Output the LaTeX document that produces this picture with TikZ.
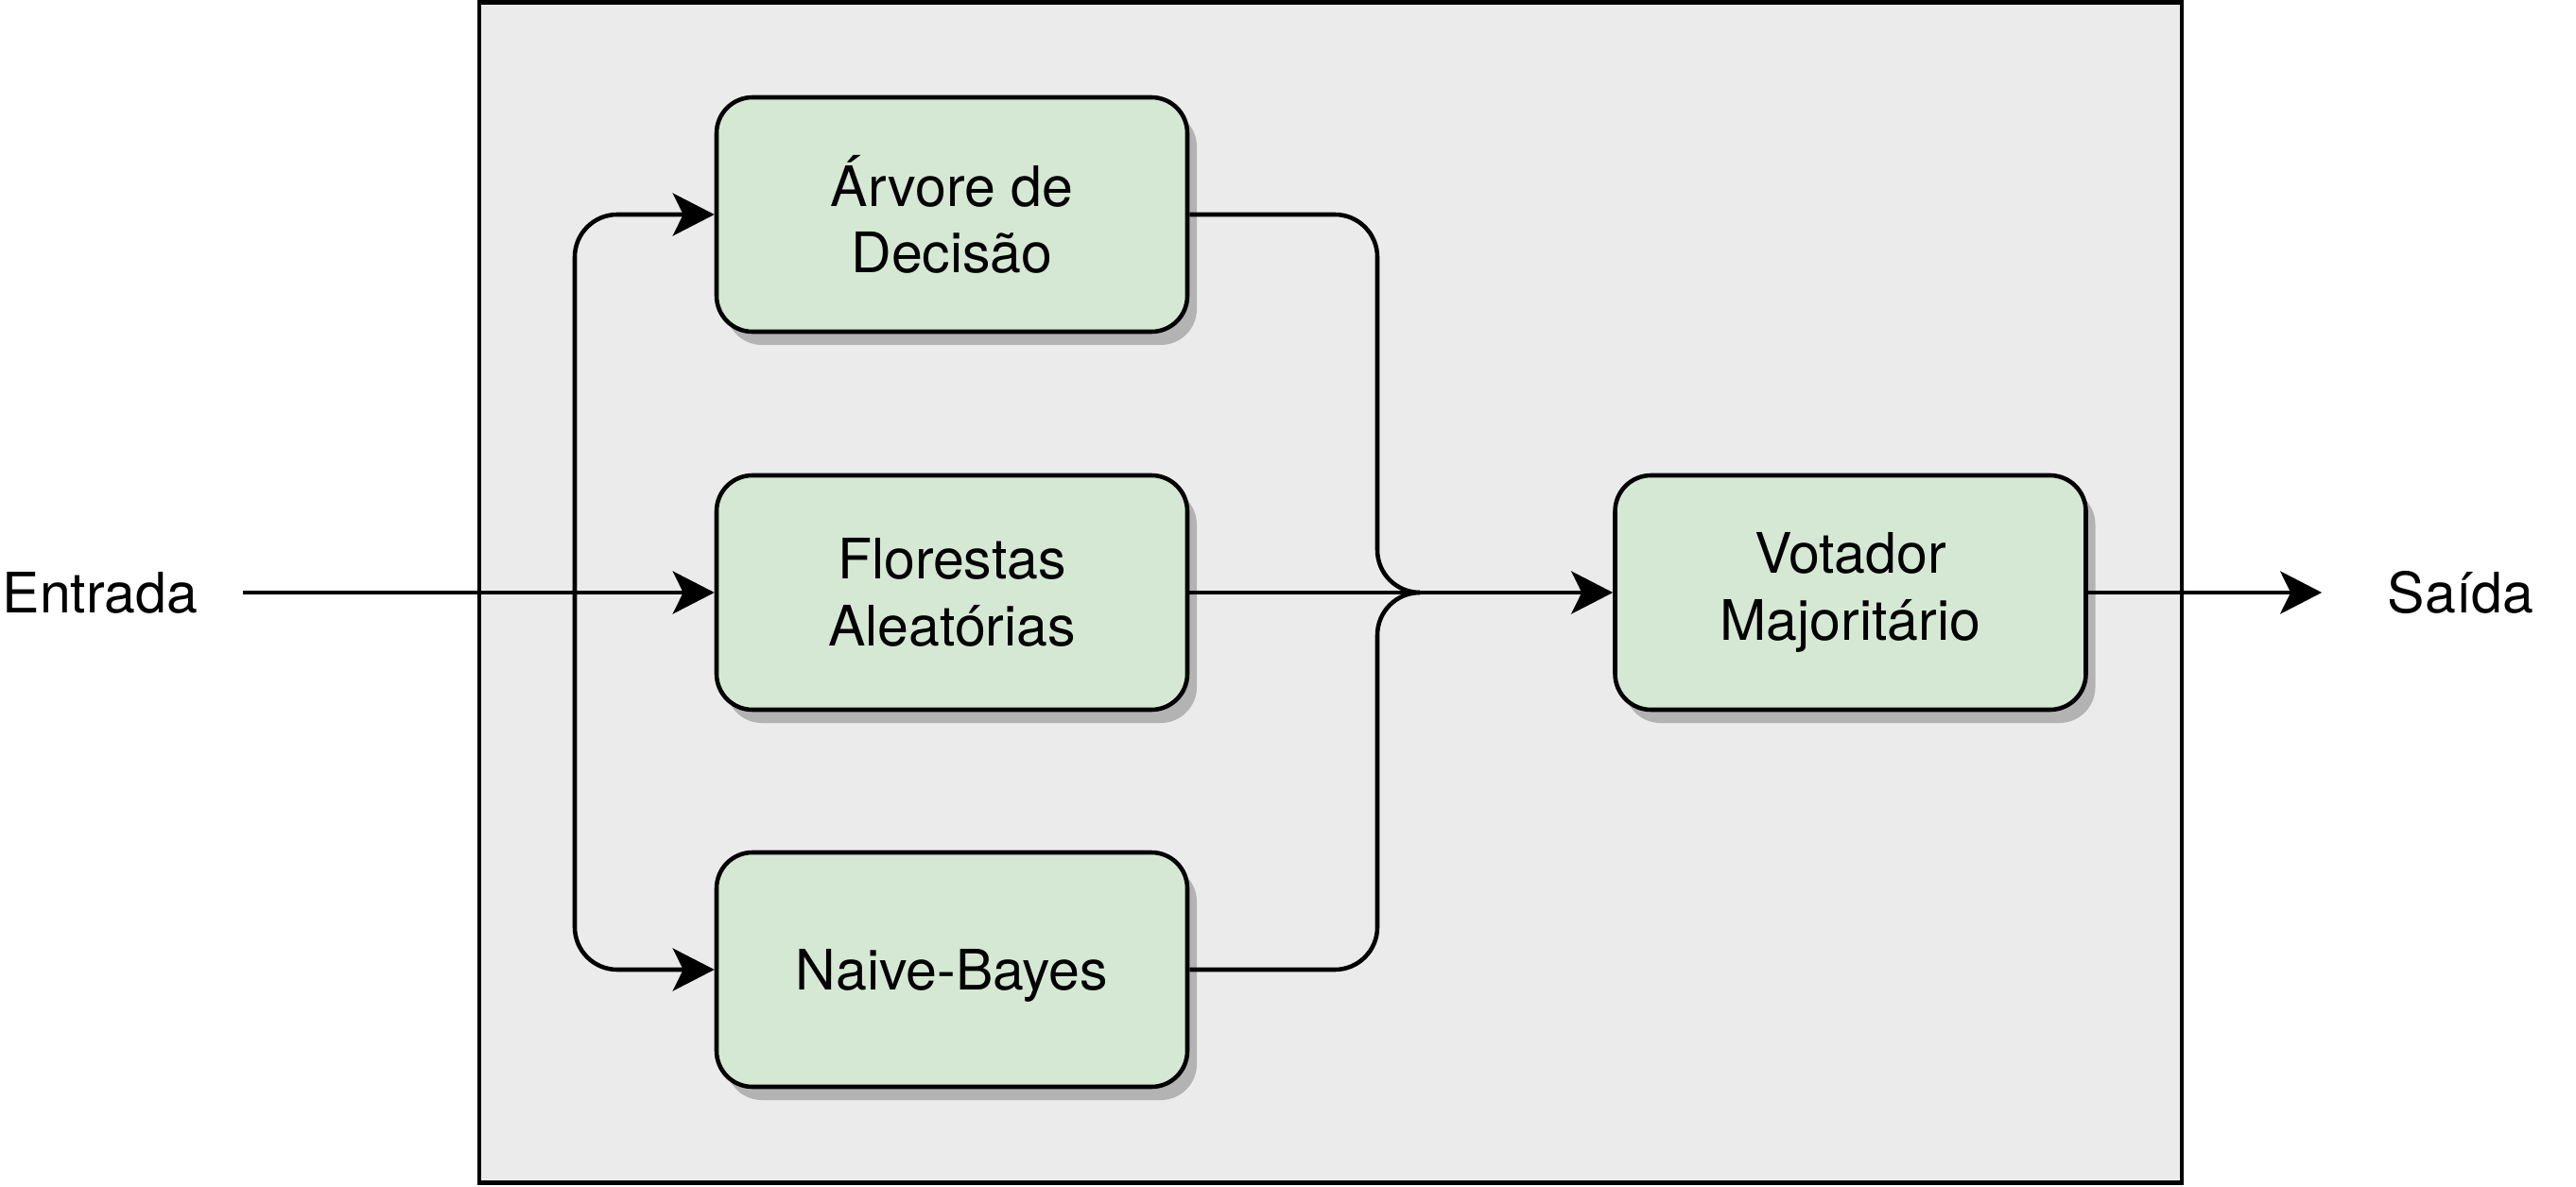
\documentclass[tikz,border=0pt]{standalone}
\usepackage{fontspec}
\setmainfont{TeX Gyre Heros}
\usepackage{tikz}
\usetikzlibrary{arrows.meta,shadows}

\definecolor{boxgreen}{HTML}{D5E8D4}
\definecolor{panelgray}{HTML}{EBEBEB}
\definecolor{shadegray}{HTML}{B3B3B3}

\begin{document}
\begin{tikzpicture}[
    font=\fontsize{16.8}{20}\selectfont,
    panel/.style={draw=black,fill=panelgray,line width=1.4pt,minimum width=18.01cm,minimum height=12.49cm},
    model/.style={draw=black,fill=boxgreen,line width=1.3pt,rounded corners=0.38cm,
      minimum width=4.98cm,minimum height=2.48cm,align=center,
      drop shadow={shadow xshift=0.1cm,shadow yshift=-0.14cm,fill=shadegray,opacity=1}},
    label/.style={inner sep=0pt},
    link/.style={line width=1.3pt,rounded corners=0.45cm},
    tip/.style={-{Stealth[length=0.44cm,width=0.45cm,inset=0.11cm]}}
  ]
  \useasboundingbox (0,0) rectangle (27.25,12.55);
  \node[panel] (comite) at (14.075,6.28) {};
  \node[label] (entrada) at (1.06,6.28) {Entrada};
  \node[label] (saida) at (26.03,6.28) {Saída};
  \node[model] (arvore) at (10.07,10.28) {Árvore de\\Decisão};
  \node[model] (florestas) at (10.07,6.28) {Florestas\\Aleatórias};
  \node[model,text depth=0pt] (naive) at (10.07,2.29) {Naive-Bayes};
  \node[model] (votador) at (19.575,6.28) {Votador\\Majoritário};
  \coordinate (split) at (6.08,6.28);
  \coordinate (merge) at (14.57,6.28);
  \coordinate (join) at (15.02,6.28);
  % entrada e divisao
  \draw[link,tip,shorten <=0.47cm] (entrada.east) -- (florestas.west);
  \draw[link,tip] (split) |- (arvore.west);
  \draw[link,tip] (split) |- (naive.west);
  % juncao das saidas
  \draw[link] (arvore.east) -| (merge) -- (join);
  \draw[link] (naive.east) -| (merge) -- (join);
  \draw[link,tip] (florestas.east) -- (votador.west);
  \draw[link,tip,shorten >=0.69cm] (votador.east) -- (saida.west);
\end{tikzpicture}
\end{document}
